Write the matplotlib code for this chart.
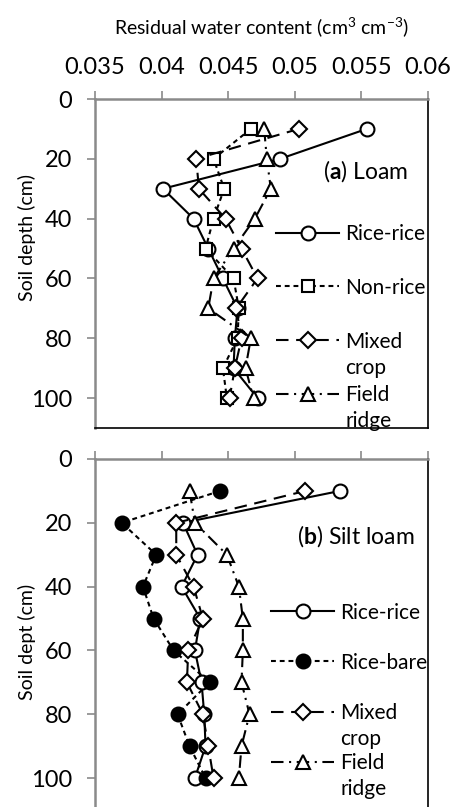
import matplotlib
matplotlib.use("Agg")
import matplotlib.pyplot as plt

plt.rcParams['font.family'] = ['Lato', 'DejaVu Sans']
plt.rcParams['mathtext.fontset'] = 'custom'
plt.rcParams['mathtext.rm'] = 'Lato'
plt.rcParams['mathtext.bf'] = 'Lato:bold'
plt.rcParams['mathtext.it'] = 'Lato:italic'
plt.rcParams['lines.scale_dashes'] = False

# Soil depth (cm) of each sampled layer
depth = [10, 20, 30, 40, 50, 60, 70, 80, 90, 100]

# Residual water content (cm3 cm-3), loam
loam_rice_rice = [0.0554, 0.0489, 0.0401, 0.0424, 0.0435, 0.0446, 0.0457, 0.0455, 0.0454, 0.0472]
loam_non_rice = [0.0467, 0.0439, 0.0447, 0.0439, 0.0433, 0.0454, 0.0458, 0.0457, 0.0446, 0.0449]
loam_mixed = [0.0503, 0.0426, 0.0428, 0.0448, 0.0460, 0.0472, 0.0456, 0.0460, 0.0455, 0.0451]
loam_ridge = [0.0477, 0.0479, 0.0482, 0.0470, 0.0454, 0.0439, 0.0435, 0.0467, 0.0463, 0.0469]

# Residual water content (cm3 cm-3), silt loam
silt_rice_rice = [0.0534, 0.0416, 0.0427, 0.0415, 0.0429, 0.0425, 0.0430, 0.0432, 0.0433, 0.0425]
silt_rice_bare = [0.0444, 0.0370, 0.0396, 0.0386, 0.0394, 0.0409, 0.0436, 0.0412, 0.0421, 0.0433]
silt_mixed = [0.0508, 0.0411, 0.0411, 0.0424, 0.0431, 0.0420, 0.0419, 0.0431, 0.0435, 0.0439]
silt_ridge = [0.0421, 0.0425, 0.0449, 0.0458, 0.0461, 0.0461, 0.0460, 0.0466, 0.0460, 0.0458]

x_ticks = [0.035, 0.04, 0.045, 0.05, 0.055, 0.06]
x_tick_labels = ['0.035', '0.04', '0.045', '0.05', '0.055', '0.06']
y_ticks = [0, 20, 40, 60, 80, 100]

GRAY = '#8a8a8a'
FS_TICK = 17
FS_LEG = 15
FS_PANEL = 16.5
FS_AXLABEL = 14

fig = plt.figure(figsize=(4.52, 8.07), dpi=100)
ax_a = fig.add_axes([95 / 452, 1 - 428 / 807, 333 / 452, 329 / 807])
ax_b = fig.add_axes([95 / 452, 1 - 810 / 807, 333 / 452, 351 / 807])

styles = {
    'solid_circle': dict(linestyle='-', marker='o', mfc='white'),
    'short_square': dict(linestyle=(0, (3.5, 2.8)), marker='s', mfc='white', ms=8.5),
    'long_diamond': dict(linestyle=(0, (9, 5.5)), marker='D', mfc='white', ms=8),
    'dashdot_tri': dict(linestyle=(0, (9, 4, 1.5, 4)), marker='^', mfc='white', ms=10),
    'short_filled': dict(linestyle=(0, (3.5, 2.8)), marker='o', mfc='black'),
}


def plot_series(ax, values, style, label):
    kw = dict(color='black', lw=1.5, ms=10, mec='black', mew=1.5)
    kw.update(styles[style])
    ax.plot(values, depth, label=label, **kw)


def style_axes(ax, show_xlabels):
    ax.set_xlim(0.035, 0.06)
    ax.set_ylim(110, 0)
    ax.xaxis.set_ticks_position('top')
    ax.set_xticks(x_ticks)
    if show_xlabels:
        ax.set_xticklabels(x_tick_labels, fontsize=FS_TICK)
    else:
        ax.set_xticklabels([])
    ax.set_yticks(y_ticks)
    ax.set_yticklabels([str(v) for v in y_ticks], fontsize=FS_TICK)
    ax.tick_params(axis='both', direction='out', length=5.8, width=1.2, color=GRAY)
    ax.tick_params(axis='y', pad=10.5)
    ax.tick_params(axis='x', pad=9)
    for side in ('left', 'top'):
        ax.spines[side].set_color(GRAY)
        ax.spines[side].set_linewidth(1.8)
    for side in ('right', 'bottom'):
        ax.spines[side].set_color('black')
        ax.spines[side].set_linewidth(1.2)


def add_legend(ax, anchor, spacing, second_lines):
    leg = ax.legend(loc='upper left', bbox_to_anchor=anchor, frameon=False,
                    fontsize=FS_LEG, handlelength=3.0, handletextpad=0.3,
                    labelspacing=spacing, borderpad=0, borderaxespad=0)
    for txt, extra in zip(leg.get_texts(), second_lines):
        if extra:
            ax.annotate(extra, xy=(0, 0), xycoords=txt, xytext=(0, -6),
                        textcoords='offset pixels', va='top', ha='left',
                        fontsize=FS_LEG, zorder=6)
    return leg


# (a) Loam
plot_series(ax_a, loam_rice_rice, 'solid_circle', 'Rice-rice')
plot_series(ax_a, loam_non_rice, 'short_square', 'Non-rice')
plot_series(ax_a, loam_mixed, 'long_diamond', 'Mixed')
plot_series(ax_a, loam_ridge, 'dashdot_tri', 'Field')
style_axes(ax_a, True)
ax_a.set_ylabel('Soil depth (cm)', fontsize=FS_AXLABEL, labelpad=-3.5, y=0.578)
ax_a.set_title('Residual water content (cm$^{3}$ cm$^{\\mathrm{-3}}$)',
               fontsize=FS_AXLABEL, pad=47)
ax_a.text(0.94, 0.78, '($\\mathbf{a}$) Loam', transform=ax_a.transAxes,
          ha='right', va='center', fontsize=FS_PANEL)
add_legend(ax_a, (0.545, 0.62), 1.62, [None, None, 'crop', 'ridge'])

# (b) Silt loam
plot_series(ax_b, silt_rice_rice, 'solid_circle', 'Rice-rice')
plot_series(ax_b, silt_rice_bare, 'short_filled', 'Rice-bare')
plot_series(ax_b, silt_mixed, 'long_diamond', 'Mixed')
plot_series(ax_b, silt_ridge, 'dashdot_tri', 'Field')
style_axes(ax_b, False)
ax_b.set_ylabel('Soil dept (cm)', fontsize=FS_AXLABEL, labelpad=-3.5, y=0.479)
ax_b.text(0.96, 0.78, '($\\mathbf{b}$) Silt loam', transform=ax_b.transAxes,
          ha='right', va='center', fontsize=FS_PANEL)
add_legend(ax_b, (0.53, 0.591), 1.45, [None, None, 'crop', 'ridge'])

fig.savefig('out.png', dpi=100)
